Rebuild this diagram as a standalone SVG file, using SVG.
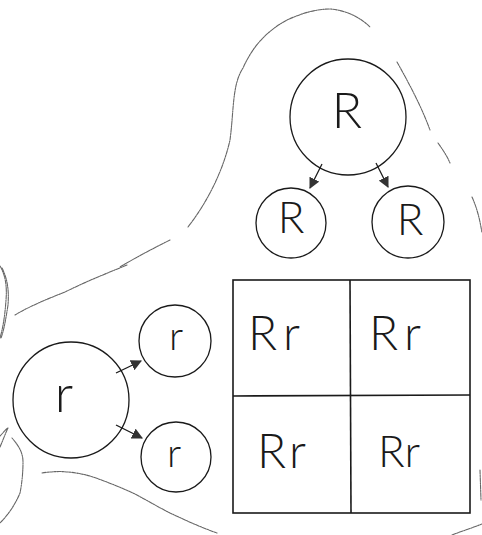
<svg xmlns="http://www.w3.org/2000/svg" width="482" height="535" viewBox="0 0 482 535">
<style>
.c{fill:none;stroke:#1a1a1a;stroke-width:1.3}
.t{font-family:"Lato","Liberation Sans",sans-serif;font-weight:300;fill:#1a1a1a;text-anchor:middle}
.b{fill:none;stroke:#666;stroke-width:1.1;stroke-dasharray:4 1 1.5 1;stroke-linecap:round}
.a{stroke:#1a1a1a;stroke-width:1.3;fill:none}
.g{fill:none;stroke:#1a1a1a;stroke-width:1.6}
</style>
<defs>
<marker id="ah" viewBox="0 0 10 10" refX="9" refY="5" markerWidth="11" markerHeight="11" markerUnits="userSpaceOnUse" orient="auto">
<path d="M0,0 L10,5 L0,10 Z" fill="#333"/>
</marker>
</defs>
<g id="outline">
<path class="b" d="M188,227 C205,205 222,175 230,140 C234,110 232,85 243,68 C252,48 265,32 287,20 C300,14 315,9 330,9 C345,10 360,17 370,27"/>
<path class="b" d="M397,62 C410,85 422,108 430,130"/>
<path class="b" d="M438,143 C443,150 447,156 450,163"/>
<path class="b" d="M472,197 C477,208 480,220 482,233"/>
<path class="b" d="M480,470 L481,500"/>
<path class="b" d="M452,535 C462,531 472,528 482,524"/>
<path class="b" d="M170,240 C150,250 135,258 120,267"/>
<path class="b" d="M127,265 C105,274 85,282 65,292 C45,300 30,306 15,315"/>
<path class="b" d="M0,266 C6,276 7,288 6,300 C5,315 3,328 0,338"/>
<path class="b" d="M2,268 C8,280 9,292 8,305 C6,318 4,330 1,338"/>
<path class="b" d="M42,473 C60,470 75,472 90,476 C105,481 120,487 135,494 C150,502 160,508 170,513 C185,520 200,527 217,533"/>
<path class="b" d="M12,438 C18,445 23,452 23,462 C23,472 22,483 20,493 C15,505 8,515 0,523"/>
<path class="b" d="M0,447 C3,440 6,432 8,428 M0,436 C3,433 5,430 8,428"/>
</g>
<g id="node-R-parent"><circle class="c" cx="348" cy="117" r="58"/><text class="t" x="347" y="128" font-size="50">R</text></g>
<g id="node-R-left"><circle class="c" cx="291" cy="223" r="35"/><text class="t" x="291" y="233" font-size="44">R</text></g>
<g id="node-R-right"><circle class="c" cx="408" cy="222" r="36"/><text class="t" x="410" y="235" font-size="44">R</text></g>
<g id="node-r-parent"><circle class="c" cx="71" cy="400" r="58"/><text class="t" x="64" y="412" font-size="52">r</text></g>
<g id="node-r-top"><circle class="c" cx="175" cy="341" r="36"/><text class="t" x="176" y="350" font-size="40">r</text></g>
<g id="node-r-bottom"><circle class="c" cx="176" cy="457" r="35"/><text class="t" x="174" y="467" font-size="40">r</text></g>
<g id="punnett">
<rect class="g" x="233" y="280" width="237" height="233"/>
<line class="g" x1="350" y1="280" x2="351" y2="513"/>
<line class="g" x1="233" y1="396" x2="470" y2="395"/>
<text class="t" x="277" y="350" font-size="48" letter-spacing="6">Rr</text>
<text class="t" x="398" y="350" font-size="48" letter-spacing="6">Rr</text>
<text class="t" x="283" y="468" font-size="48" letter-spacing="3">Rr</text>
<text class="t" x="399" y="467" font-size="44">Rr</text>
</g>
<g id="connectors">
<line class="a" x1="322" y1="164" x2="310" y2="188" marker-end="url(#ah)"/>
<line class="a" x1="376" y1="163" x2="388" y2="187" marker-end="url(#ah)"/>
<line class="a" x1="116" y1="373" x2="141" y2="361" marker-end="url(#ah)"/>
<line class="a" x1="116" y1="425" x2="142" y2="438" marker-end="url(#ah)"/>
</g>
</svg>
